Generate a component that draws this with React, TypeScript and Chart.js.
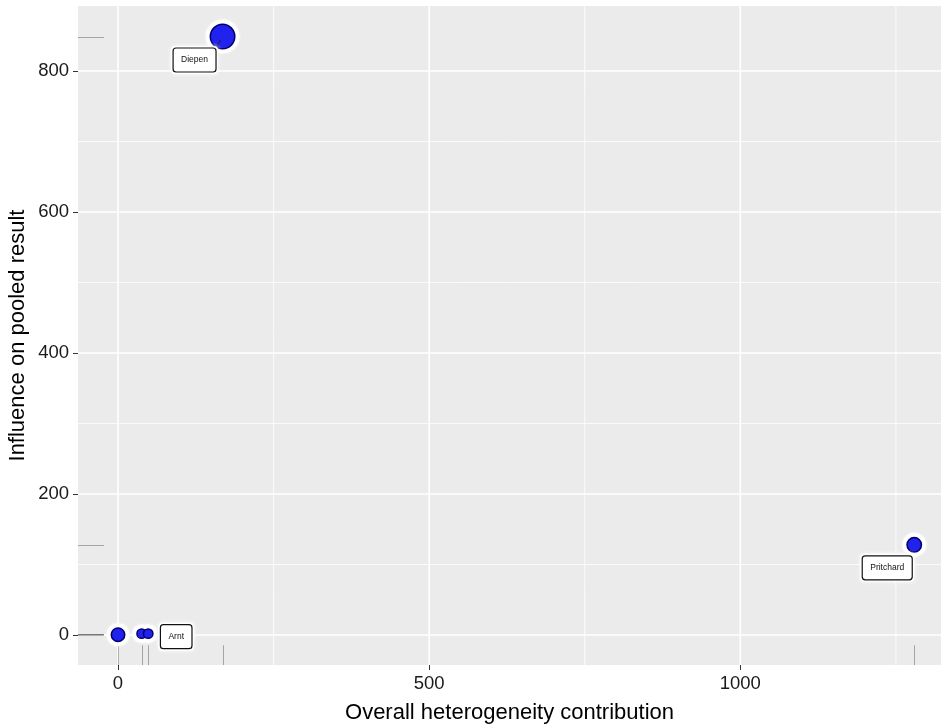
import React, { useEffect, useRef } from "react";
import { Chart, registerables } from "chart.js";

Chart.register(...registerables);

// ---- data ----
const studyLabels = ["", "", "Arnt", "Diepen", "Pritchard"];
const heterogeneity = [0, 38, 48.5, 168, 1279.5];
const influence = [0.5, 2, 2, 849, 128];
const studyWeight = [5.6, 3.0, 3.0, 16.9, 6.4];
const xTicks = [0, 500, 1000];
const yTicks = [0, 200, 400, 600, 800];
const xMinorGrid = [250, 750, 1250];
const yMinorGrid = [100, 300, 500, 700];
const xTitle = "Overall heterogeneity contribution";
const yTitle = "Influence on pooled result";

// ---- styles ----
const FONT = '"Liberation Sans", Arial, Helvetica, sans-serif';
const PANEL_BG = "#EBEBEB";
const POINT_FILL = "#2222EE";
const POINT_BORDER = "#00006E";
const labelStyle: Record<string, { dx: number; dy: number; connector: boolean }> = {
  Arnt: { dx: 28, dy: 3, connector: false },
  Diepen: { dx: -28, dy: 23.5, connector: true },
  Pritchard: { dx: -27, dy: 23, connector: false },
};
const radiusOf = (w: number) => Math.sqrt(w) * 3.16 - 0.75;

function roundRect(ctx: CanvasRenderingContext2D, x: number, y: number, w: number, h: number, r: number) {
  ctx.beginPath();
  ctx.moveTo(x + r, y);
  ctx.lineTo(x + w - r, y);
  ctx.quadraticCurveTo(x + w, y, x + w, y + r);
  ctx.lineTo(x + w, y + h - r);
  ctx.quadraticCurveTo(x + w, y + h, x + w - r, y + h);
  ctx.lineTo(x + r, y + h);
  ctx.quadraticCurveTo(x, y + h, x, y + h - r);
  ctx.lineTo(x, y + r);
  ctx.quadraticCurveTo(x, y, x + r, y);
  ctx.closePath();
}

const zeroPadding = (s: any) => {
  s.paddingTop = 0;
  s.paddingBottom = 0;
  s.paddingLeft = 0;
  s.paddingRight = 0;
};

const panelPlugin = {
  id: "ggpanel",
  beforeDraw(chart: any) {
    const { ctx, chartArea: a, scales } = chart;
    const x = scales.x;
    const y = scales.y;
    ctx.save();
    ctx.fillStyle = PANEL_BG;
    ctx.fillRect(a.left, a.top, a.right - a.left, a.bottom - a.top);
    ctx.strokeStyle = "#FFFFFF";
    // minor grid
    ctx.lineWidth = 0.8;
    xMinorGrid.forEach((v) => {
      const px = x.getPixelForValue(v);
      ctx.beginPath();
      ctx.moveTo(px, a.top);
      ctx.lineTo(px, a.bottom);
      ctx.stroke();
    });
    yMinorGrid.forEach((v) => {
      const py = y.getPixelForValue(v);
      ctx.beginPath();
      ctx.moveTo(a.left, py);
      ctx.lineTo(a.right, py);
      ctx.stroke();
    });
    // major grid
    ctx.lineWidth = 1.6;
    xTicks.forEach((v) => {
      const px = x.getPixelForValue(v);
      ctx.beginPath();
      ctx.moveTo(px, a.top);
      ctx.lineTo(px, a.bottom);
      ctx.stroke();
    });
    yTicks.forEach((v) => {
      const py = y.getPixelForValue(v);
      ctx.beginPath();
      ctx.moveTo(a.left, py);
      ctx.lineTo(a.right, py);
      ctx.stroke();
    });
    // rugs
    ctx.strokeStyle = "rgba(0,0,0,0.3)";
    ctx.lineWidth = 1;
    const rugX = 0.03 * (a.bottom - a.top);
    const rugY = 0.03 * (a.right - a.left);
    heterogeneity.forEach((v) => {
      const px = Math.round(x.getPixelForValue(v)) + 0.5;
      ctx.beginPath();
      ctx.moveTo(px, a.bottom);
      ctx.lineTo(px, a.bottom - rugX);
      ctx.stroke();
    });
    influence.forEach((v) => {
      const py = Math.round(y.getPixelForValue(v)) + 0.5;
      ctx.beginPath();
      ctx.moveTo(a.left, py);
      ctx.lineTo(a.left + rugY, py);
      ctx.stroke();
    });
    ctx.restore();
  },
  beforeDatasetsDraw(chart: any) {
    const { ctx, scales } = chart;
    ctx.save();
    ctx.fillStyle = "#FFFFFF";
    ctx.shadowColor = "rgba(255,255,255,1)";
    ctx.shadowBlur = 3;
    heterogeneity.forEach((v, i) => {
      const px = scales.x.getPixelForValue(v);
      const py = scales.y.getPixelForValue(influence[i]);
      ctx.beginPath();
      ctx.arc(px, py, radiusOf(studyWeight[i]) + 4.5, 0, Math.PI * 2);
      ctx.fill();
    });
    ctx.restore();
  },
  afterDatasetsDraw(chart: any) {
    const { ctx, scales } = chart;
    ctx.save();
    ctx.font = `8.5px ${FONT}`;
    studyLabels.forEach((name, i) => {
      if (!name) return;
      const st = labelStyle[name];
      const px = scales.x.getPixelForValue(heterogeneity[i]);
      const py = scales.y.getPixelForValue(influence[i]);
      const tw = ctx.measureText(name).width;
      const w = tw + 16;
      const h = 24;
      const cx = px + st.dx;
      const cy = py + st.dy;
      const bx = cx - w / 2;
      const by = cy - h / 2;
      if (st.connector) {
        const sx = st.dx < 0 ? bx + w : bx;
        const sy = st.dy > 0 ? by : by + h;
        ctx.strokeStyle = "#222";
        ctx.lineWidth = 1;
        ctx.beginPath();
        ctx.moveTo(sx, sy);
        ctx.lineTo(sx + (px - sx) * 0.75, sy + (py - sy) * 0.75);
        ctx.stroke();
      }
      // halo
      ctx.save();
      ctx.fillStyle = "#FFFFFF";
      ctx.shadowColor = "rgba(255,255,255,1)";
      ctx.shadowBlur = 4;
      roundRect(ctx, bx - 2, by - 2, w + 4, h + 4, 4);
      ctx.fill();
      ctx.restore();
      roundRect(ctx, bx, by, w, h, 3);
      ctx.fillStyle = "#FFFFFF";
      ctx.fill();
      ctx.strokeStyle = "#111";
      ctx.lineWidth = 1.2;
      ctx.stroke();
      ctx.fillStyle = "#111";
      ctx.textAlign = "center";
      ctx.textBaseline = "middle";
      ctx.fillText(name, cx, cy);
    });
    ctx.restore();
  },
};

export default function App() {
  const ref = useRef<HTMLCanvasElement | null>(null);
  useEffect(() => {
    document.body.style.margin = "0";
    const canvas = ref.current;
    if (!canvas) return;
    const points = heterogeneity.map((v, i) => ({ x: v, y: influence[i] }));
    const radii = studyWeight.map(radiusOf);
    const chart = new Chart(canvas, {
      type: "scatter",
      data: {
        datasets: [
          {
            data: points,
            pointRadius: radii,
            pointHoverRadius: radii,
            backgroundColor: POINT_FILL,
            borderColor: POINT_BORDER,
            borderWidth: 1.5,
          },
        ],
      },
      options: {
        animation: false,
        responsive: false,
        devicePixelRatio: 1,
        events: [],
        layout: { autoPadding: false, padding: { top: 6, right: 0, left: 0, bottom: 0 } },
        plugins: { legend: { display: false }, tooltip: { enabled: false } },
        scales: {
          x: {
            type: "linear",
            min: -64.3,
            max: 1322.5,
            afterFit: (s: any) => {
              s.height = 61;
              zeroPadding(s);
            },
            afterBuildTicks: (s: any) => {
              s.ticks = xTicks.map((v) => ({ value: v }));
            },
            grid: { drawOnChartArea: false, drawTicks: true, tickLength: 5, tickColor: "#333", tickWidth: 1 },
            border: { display: false },
            ticks: {
              autoSkip: false,
              maxRotation: 0,
              padding: 3,
              color: "#1a1a1a",
              font: { family: FONT, size: 18.5 },
              callback: (v: any) => String(v),
            },
            title: {
              display: true,
              text: xTitle,
              color: "#000",
              font: { family: FONT, size: 22 },
              padding: { top: 0, bottom: 0 },
            },
          },
          y: {
            type: "linear",
            min: -42.5,
            max: 892.3,
            afterFit: (s: any) => {
              s.width = 78;
              zeroPadding(s);
            },
            afterBuildTicks: (s: any) => {
              s.ticks = yTicks.map((v) => ({ value: v }));
            },
            grid: { drawOnChartArea: false, drawTicks: true, tickLength: 5, tickColor: "#333", tickWidth: 1 },
            border: { display: false },
            ticks: {
              autoSkip: false,
              padding: 4,
              color: "#1a1a1a",
              font: { family: FONT, size: 18.5 },
              callback: (v: any) => String(v),
            },
            title: {
              display: true,
              text: yTitle,
              color: "#000",
              font: { family: FONT, size: 22 },
              padding: { top: 4.5, bottom: 0 },
            },
          },
        },
      },
      plugins: [panelPlugin],
    });
    return () => chart.destroy();
  }, []);
  return (
    <div style={{ position: "fixed", left: 0, top: 0, width: 941, height: 726, background: "#fff" }}>
      <canvas ref={ref} width={941} height={726} style={{ display: "block" }} />
    </div>
  );
}
